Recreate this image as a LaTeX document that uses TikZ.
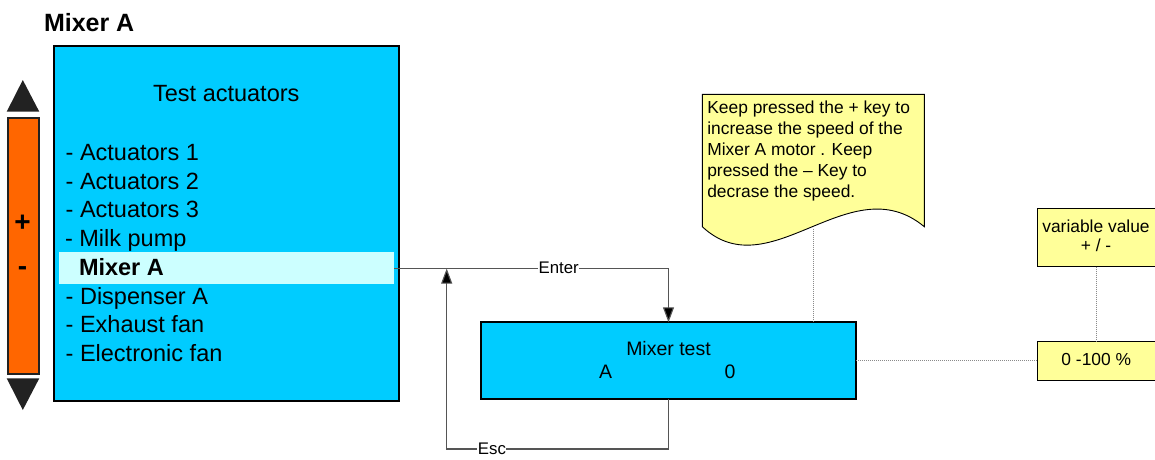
\documentclass[tikz,border=0pt]{standalone}
\usepackage{fontspec}
\setmainfont{Liberation Sans}
\usetikzlibrary{arrows.meta}
\definecolor{boxcyan}{HTML}{00CCFF}
\definecolor{hlcyan}{HTML}{CCFFFF}
\definecolor{barorange}{HTML}{FF6600}
\definecolor{noteyellow}{HTML}{FFFF99}
\definecolor{darktri}{HTML}{222222}
\definecolor{linegray}{HTML}{555555}
\definecolor{dotgray}{HTML}{8A8A8A}
\begin{document}
\begin{tikzpicture}[x=1pt,y=-1pt,
  txt/.style={inner sep=0pt,outer sep=0pt,anchor=base west},
  ctxt/.style={inner sep=0pt,outer sep=0pt,anchor=base},
  listfont/.style={font=\fontsize{23.5}{28}\selectfont},
  notefont/.style={font=\fontsize{17.4}{21}\selectfont},
  bluebox/.style={draw=black,fill=boxcyan,line width=2pt,anchor=north west,inner sep=0pt,outer sep=0pt},
  yellowbox/.style={draw=black,fill=noteyellow,line width=1pt,anchor=north west,inner sep=0pt,outer sep=0pt},
  conn/.style={draw=linegray,line width=1.1pt},
  arr/.style={-{Triangle[length=15pt,width=11pt,fill=black]}},
  lbl/.style={fill=white,inner sep=0.5pt,font=\fontsize{16.8}{18}\selectfont,text=black},
  dotline/.style={draw=dotgray,line width=0.8pt,dash pattern=on 1pt off 1pt}
]
\useasboundingbox (0,0) rectangle (1155,459);
\clip (0,0) rectangle (1155,459);

% title
\node[txt,font=\fontsize{25}{30}\selectfont\bfseries] (title) at (44,31) {Mixer A};

% scroll bar
\fill[darktri] (6.7,111.7) -- (22.8,80) -- (39.3,111.7) -- cycle;
\fill[darktri] (6.7,378.3) -- (22.8,410) -- (39.3,378.3) -- cycle;
\node[draw=darktri,fill=barorange,line width=2pt,anchor=north west,inner sep=0pt,minimum width=30.4pt,minimum height=256.6pt] (bar) at (7.3,116.7) {};
\node[ctxt,font=\fontsize{28}{30}\selectfont\bfseries] (plus) at (22.5,231.8) {+};
\node[ctxt,font=\fontsize{28}{30}\selectfont\bfseries] (minus) at (22.5,275.9) {-};

% main menu box
\node[bluebox,minimum width=345.3pt,minimum height=355pt] (main) at (54,46) {};
\node[fill=hlcyan,anchor=north west,inner sep=0pt,outer sep=0pt,minimum width=334.7pt,minimum height=31.7pt] (hl) at (59.3,252.3) {};
\node[ctxt,listfont] (head) at (226.3,101.7) {Test actuators};
\node[txt,listfont] (l1) at (65.7,160.7) {- Actuators 1};
\node[txt,listfont] (l2) at (65.7,189.3) {- Actuators 2};
\node[txt,listfont] (l3) at (65.7,217.7) {- Actuators 3};
\node[txt,listfont] (l4) at (65.0,246.7) {- Milk pump};
\node[txt,listfont,font=\fontsize{23.5}{28}\selectfont\bfseries] (l5) at (79,275) {Mixer A};
\node[txt,listfont] (l6) at (65.7,304) {- Dispenser A};
\node[txt,listfont] (l7) at (65.7,332.7) {- Exhaust fan};
\node[txt,listfont] (l8) at (65.7,361.7) {- Electronic fan};

% mixer test box
\node[bluebox,minimum width=375pt,minimum height=76.7pt] (mt) at (481,322.3) {};
\node[ctxt,font=\fontsize{19.5}{22}\selectfont] (mtt) at (668.5,355) {Mixer test};
\node[ctxt,font=\fontsize{19.5}{22}\selectfont] (mta) at (605.5,378.3) {A};
\node[ctxt,font=\fontsize{19.5}{22}\selectfont] (mt0) at (730,378.3) {0};

% connectors
\draw[conn,arr] (hl.east) -| node[lbl,pos=0.3] (enter) {Enter} (mt.north);
\coordinate (escb) at (446.7,449);
\coordinate (escup) at (446.7,268.6);
\draw[conn,arr] (mt.south) |- node[lbl,pos=0.898] (esc) {Esc} (escb) -- (escup);

% note
\draw[fill=noteyellow,draw=black,line width=0.9pt] (702.3,94.3) -- (924.3,94.3) -- (924.3,226.7)
  .. controls (850,165) and (770,290) .. (702.3,226.7) -- cycle;
\node[txt,notefont] (n1) at (707.3,113.3) {Keep pressed the + key to};
\node[txt,notefont] (n2) at (707.3,134.4) {increase the speed of the};
\node[txt,notefont] (n3) at (707.3,155.5) {Mixer A motor . Keep};
\node[txt,notefont] (n4) at (707.3,176.6) {pressed the – Key to};
\node[txt,notefont] (n5) at (707.3,197.7) {decrase the speed.};
\coordinate (notebot) at (813.3,228.5);
\draw[dotline] (notebot) -- (notebot |- mt.north);

% right boxes
\node[yellowbox,minimum width=118.7pt,minimum height=58.4pt] (vv) at (1037.3,208.3) {};
\node[ctxt,notefont] (vv1) at (1096,232.3) {variable value};
\node[ctxt,notefont] (vv2) at (1096,251.7) {+ / -};
\node[yellowbox,minimum width=118.7pt,minimum height=39pt] (pct) at (1037.3,341) {};
\node[ctxt,notefont] (pcttxt) at (1096.3,365.7) {0 -100 \%};
\draw[dotline] (mt.east) -- (mt.east -| pct.west);
\draw[dotline] (vv.south) -- (pct.north);
\end{tikzpicture}
\end{document}
